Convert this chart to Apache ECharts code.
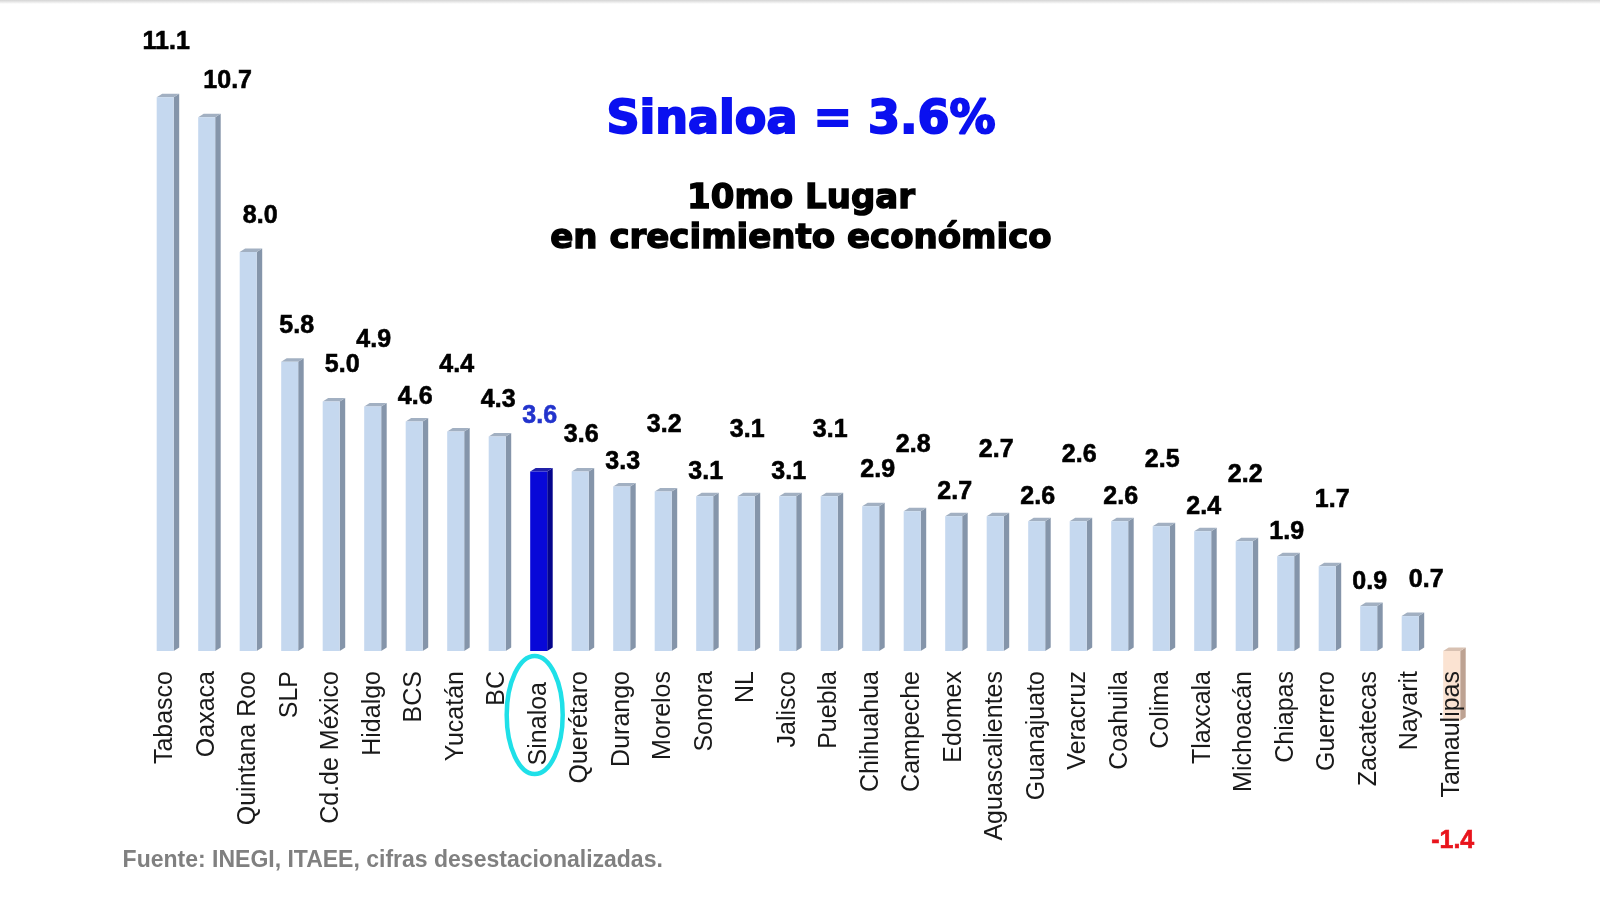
<!DOCTYPE html>
<html>
<head>
<meta charset="utf-8">
<title>Crecimiento económico por entidad</title>
<script src="https://cdn.jsdelivr.net/npm/echarts@6/dist/echarts.min.js"></script>
<style>
  html, body { margin: 0; padding: 0; background: #fff; }
  #chart { width: 1600px; height: 898px; }
</style>
</head>
<body>
<div id="chart"></div>
<script>
const states = ['Tabasco', 'Oaxaca', 'Quintana Roo', 'SLP', 'Cd.de México', 'Hidalgo', 'BCS', 'Yucatán',
  'BC', 'Sinaloa', 'Querétaro', 'Durango', 'Morelos', 'Sonora', 'NL', 'Jalisco', 'Puebla', 'Chihuahua',
  'Campeche', 'Edomex', 'Aguascalientes', 'Guanajuato', 'Veracruz', 'Coahuila', 'Colima', 'Tlaxcala',
  'Michoacán', 'Chiapas', 'Guerrero', 'Zacatecas', 'Nayarit', 'Tamaulipas']
const growth = [11.1, 10.7, 8.0, 5.8, 5.0, 4.9, 4.6, 4.4, 4.3, 3.6, 3.6, 3.3, 3.2, 3.1, 3.1, 3.1, 3.1, 2.9,
  2.8, 2.7, 2.7, 2.6, 2.6, 2.6, 2.5, 2.4, 2.2, 1.9, 1.7, 0.9, 0.7, -1.4]
const highlighted = 'Sinaloa'
const headline = 'Sinaloa = 3.6%'
const subline = ['10mo Lugar', 'en crecimiento económico']
const source = 'Fuente: INEGI, ITAEE, cifras desestacionalizadas.'

// value labels are staggered like in the original slide
const raisedHigh = ['Hidalgo', 'Yucatán', 'Morelos', 'NL', 'Puebla', 'Campeche', 'Aguascalientes',
  'Veracruz', 'Colima', 'Michoacán', 'Guerrero']
const raisedMid = ['Tabasco', 'Sinaloa']
const raisedLow = ['Oaxaca', 'Quintana Roo', 'SLP', 'Cd.de México', 'BC', 'Querétaro', 'Chihuahua', 'Nayarit']
const nudge = { 'Oaxaca': 20, 'Quintana Roo': 11, 'SLP': 6, 'Cd.de México': 10, 'Chihuahua': 6, 'Nayarit': 15, 'Guerrero': 4 }

const palette = {
  normal: { front: '#c5d8ef', side: '#8595aa', top: '#a2b0c2', label: '#000000' },
  highlight: { front: '#0808d8', side: '#04048c', top: '#2020a8', label: '#2233cc' },
  negative: { front: '#fbe3d2', side: '#bda292', top: '#d8c1b2', label: '#e8141c' }
}
const DEPTH_X = 5.5
const DEPTH_Y = 3.5
const NAME_GAP = 20

function labelLift (name) {
  if (raisedHigh.includes(name)) return 66
  if (raisedMid.includes(name)) return 55
  if (raisedLow.includes(name)) return 36
  return 24
}

function renderBar (params, api) {
  let i = api.value(0)
  let v = api.value(1)
  let name = states[i]
  let base = api.coord([i, 0])
  let tip = api.coord([i, v])
  let band = api.size([1, 0])[0]
  let w = band * 0.41
  let x0 = base[0] - w / 2
  let x1 = x0 + w
  let top = Math.min(base[1], tip[1])
  let bottom = Math.max(base[1], tip[1])
  let c = v < 0 ? palette.negative : (name === highlighted ? palette.highlight : palette.normal)

  let children = [
    {
      type: 'polygon',
      shape: { points: [[x1, top], [x1 + DEPTH_X, top - DEPTH_Y], [x1 + DEPTH_X, bottom - DEPTH_Y], [x1, bottom]] },
      style: { fill: c.side }
    },
    {
      type: 'polygon',
      shape: { points: [[x0, top], [x0 + DEPTH_X, top - DEPTH_Y], [x1 + DEPTH_X, top - DEPTH_Y], [x1, top]] },
      style: { fill: c.top }
    },
    {
      type: 'rect',
      shape: { x: x0, y: top, width: w, height: bottom - top },
      style: { fill: c.front }
    },
    {
      // state name, rotated, hanging just under the zero line
      type: 'text',
      x: base[0],
      y: base[1] + NAME_GAP + (name === highlighted ? 11 : 0),
      rotation: Math.PI / 2,
      style: {
        text: name,
        fill: '#1a1a1a',
        font: '25px "Liberation Sans", Arial, sans-serif',
        align: 'right',
        verticalAlign: 'middle'
      }
    },
    {
      type: 'text',
      x: base[0] + 1 + (nudge[name] || 0),
      y: v < 0 ? tip[1] + 120 : tip[1] - labelLift(name),
      style: {
        text: v.toFixed(1),
        fill: c.label,
        font: 'bold 25px "Liberation Sans", Arial, sans-serif',
        align: 'center',
        verticalAlign: 'middle',
        stroke: c.label,
        lineWidth: 0.6
      }
    }
  ]

  if (name === highlighted) {
    children.push({
      type: 'ellipse',
      shape: { cx: base[0] - 4, cy: base[1] + 64, rx: 28, ry: 59 },
      style: { fill: 'none', stroke: '#1fe0e8', lineWidth: 4.5 }
    })
  }
  return { type: 'group', children: children }
}

let chart = echarts.init(document.getElementById('chart'))

chart.setOption({
  backgroundColor: '#ffffff',
  animation: false,
  grid: { left: 144.45, right: 127.55, top: 2.56, bottom: 147.24, outerBoundsMode: 'none', containLabel: false },
  xAxis: {
    type: 'category',
    data: states,
    axisLine: { show: false },
    axisTick: { show: false },
    axisLabel: { show: false }
  },
  yAxis: {
    type: 'value',
    min: -2,
    max: 13,
    axisLine: { show: false },
    axisTick: { show: false },
    axisLabel: { show: false },
    splitLine: { show: false }
  },
  series: [{
    type: 'custom',
    clip: false,
    renderItem: renderBar,
    encode: { x: 0, y: 1 },
    data: growth.map((v, i) => [i, v])
  }],
  graphic: [
    {
      type: 'rect',
      shape: { x: 0, y: 0, width: 1600, height: 4 },
      style: {
        fill: new echarts.graphic.LinearGradient(0, 0, 0, 1, [
          { offset: 0, color: '#d4d4d4' },
          { offset: 1, color: '#ffffff' }
        ])
      }
    },
    {
      type: 'text',
      x: 801,
      y: 121,
      style: {
        text: headline,
        fill: '#0a10f0',
        font: 'bold 46px "DejaVu Sans", sans-serif',
        align: 'center',
        verticalAlign: 'middle',
        stroke: '#0a10f0',
        lineWidth: 2
      }
    },
    {
      type: 'text',
      x: 801,
      y: 199,
      style: {
        text: subline[0],
        fill: '#000000',
        font: 'bold 34px "DejaVu Sans", sans-serif',
        align: 'center',
        verticalAlign: 'middle',
        stroke: '#000000',
        lineWidth: 1.4
      }
    },
    {
      type: 'text',
      x: 801,
      y: 239.5,
      style: {
        text: subline[1],
        fill: '#000000',
        font: 'bold 34px "DejaVu Sans", sans-serif',
        align: 'center',
        verticalAlign: 'middle',
        stroke: '#000000',
        lineWidth: 1.4
      }
    },
    {
      type: 'text',
      x: 122.6,
      y: 861,
      style: {
        text: source,
        fill: '#808080',
        font: 'bold 23px "Liberation Sans", Arial, sans-serif',
        align: 'left',
        verticalAlign: 'middle'
      }
    }
  ]
})

window.addEventListener('resize', () => chart.resize())
</script>
</body>
</html>
